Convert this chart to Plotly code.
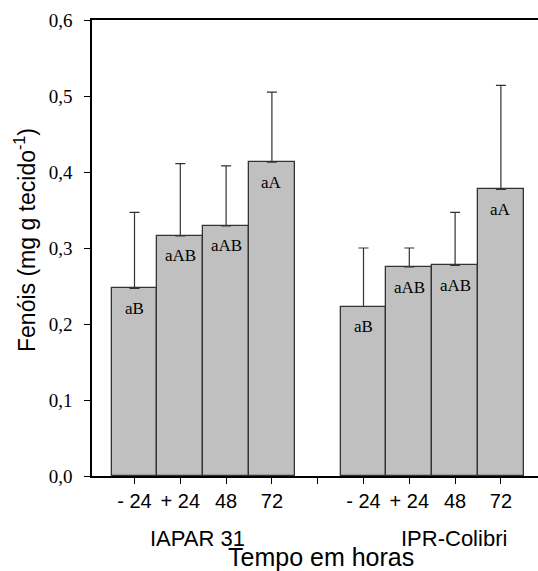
import plotly.graph_objects as go

# Phenol content by cultivar and sampling time
cultivars = ["IAPAR 31", "IPR-Colibri"]
time_labels = ["- 24", "+ 24", "48", "72"]

iapar_means = [0.247, 0.316, 0.329, 0.413]
iapar_err = [0.100, 0.095, 0.079, 0.092]
iapar_letters = ["aB", "aAB", "aAB", "aA"]

colibri_means = [0.223, 0.275, 0.277, 0.377]
colibri_err = [0.077, 0.025, 0.070, 0.137]
colibri_letters = ["aB", "aAB", "aAB", "aA"]

# slot positions on the x axis: 4 bars, an empty slot, 4 bars
iapar_x = [1, 2, 3, 4]
colibri_x = [6, 7, 8, 9]
tick_positions = iapar_x + [5] + colibri_x
tick_text = time_labels + [" "] + time_labels

W, H = 538, 571
ML, MR, MT, MB = 92, 0, 20, 95
PW, PH = W - ML - MR, H - MT - MB


def px_to_paper_x(px):
    return (px - ML) / PW


def px_to_paper_y(py):
    return (H - MB - py) / PH


bar_style = dict(
    marker=dict(color="#c0c0c0", line=dict(color="#333333", width=1.3)),
    width=1.0,
    showlegend=False,
    hoverinfo="skip",
)
err_style = dict(type="data", symmetric=False,
                 color="#333333", thickness=1.2, width=5)

fig = go.Figure()
fig.add_trace(go.Bar(x=iapar_x, y=iapar_means,
                     error_y=dict(array=iapar_err, **err_style), **bar_style))
fig.add_trace(go.Bar(x=colibri_x, y=colibri_means,
                     error_y=dict(array=colibri_err, **err_style), **bar_style))

annotations = []
# significance letters inside the bars
for xs, ys, letters in [(iapar_x, iapar_means, iapar_letters),
                        (colibri_x, colibri_means, colibri_letters)]:
    for xv, yv, t in zip(xs, ys, letters):
        annotations.append(dict(
            x=xv, y=yv, xref="x", yref="y", text=t, showarrow=False,
            yanchor="middle", xanchor="center", yshift=-20,
            font=dict(family="Liberation Serif", size=17, color="black"),
        ))

# cultivar names under the tick labels
for name, cx in zip(cultivars, [197, 454]):
    annotations.append(dict(
        x=px_to_paper_x(cx), y=px_to_paper_y(538), xref="paper", yref="paper",
        text=name, showarrow=False, xanchor="center", yanchor="middle",
        font=dict(family="Liberation Sans", size=22, color="black"),
    ))

# axis titles
annotations.append(dict(
    x=px_to_paper_x(320.5), y=px_to_paper_y(557), xref="paper", yref="paper",
    text="Tempo em horas", showarrow=False, xanchor="center", yanchor="middle",
    font=dict(family="Liberation Sans", size=25, color="black"),
))
annotations.append(dict(
    x=px_to_paper_x(25), y=px_to_paper_y(240), xref="paper", yref="paper",
    text="Fenóis (mg g tecido<sup>-1</sup>)", showarrow=False, textangle=-90,
    xanchor="center", yanchor="middle",
    font=dict(family="Liberation Sans", size=23, color="black"),
))

fig.update_layout(
    width=W, height=H,
    margin=dict(l=ML, r=MR, t=MT, b=MB, pad=0),
    paper_bgcolor="white", plot_bgcolor="white",
    bargap=0,
    annotations=annotations,
    xaxis=dict(
        range=[0.072, 9.81],
        tickmode="array", tickvals=tick_positions, ticktext=tick_text,
        ticks="outside", ticklen=6, tickwidth=1, tickcolor="black",
        showline=True, linecolor="black", linewidth=1.5, mirror=True,
        showgrid=False, zeroline=False,
        tickfont=dict(family="Liberation Sans", size=20, color="black"),
    ),
    yaxis=dict(
        range=[0, 0.6],
        tickmode="array", tickvals=[0, 0.1, 0.2, 0.3, 0.4, 0.5, 0.6],
        ticktext=["0,0", "0,1", "0,2", "0,3", "0,4", "0,5", "0,6"],
        ticks="outside", ticklen=6, tickwidth=1, tickcolor="black",
        showline=True, linecolor="black", linewidth=1.5,
        showgrid=False, zeroline=False,
        tickfont=dict(family="Liberation Serif", size=19, color="black"),
        ticklabelstandoff=8,
    ),
)

fig.write_html("out.html")
